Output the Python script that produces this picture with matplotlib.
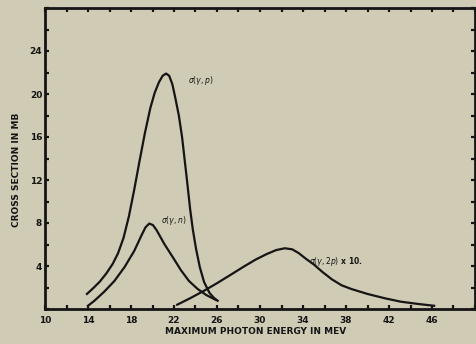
import numpy as np
import matplotlib.pyplot as plt
from matplotlib.ticker import MultipleLocator

# sigma(gamma,p)
e_p=[13.9,14.5,15.1,15.7,16.3,16.8,17.3,17.8,18.3,18.8,19.3,19.8,20.2,20.6,20.95,21.26,21.55,21.85,22.15,22.45,22.75,23.0,23.25,23.5,23.75,24.05,24.4,24.8,25.3,25.7,26.06]
s_p=[1.4,1.95,2.55,3.3,4.2,5.2,6.6,8.6,11.1,13.8,16.4,18.7,20.1,21.1,21.7,21.9,21.7,20.9,19.5,18.0,16.0,13.8,11.6,9.3,7.4,5.6,3.9,2.5,1.5,1.05,0.77]

# sigma(gamma,n)
e_n=[14.0,14.6,15.5,16.45,17.4,18.3,19.0,19.35,19.7,20.05,20.4,21.1,21.9,22.65,23.4,24.2,25.0,25.9]
s_n=[0.3,0.77,1.6,2.6,3.9,5.4,6.9,7.6,7.95,7.8,7.3,6.05,4.8,3.6,2.6,1.86,1.3,0.84]

# sigma(gamma,2p) x 10
e_2p=[22.3,23.5,24.8,26.0,27.3,28.5,29.6,30.6,31.5,32.3,33.0,33.6,34.3,35.0,35.8,36.7,37.6,38.5,40.0,41.6,43.1,44.7,46.2]
s_2p=[0.4,1.0,1.7,2.4,3.2,3.95,4.6,5.1,5.48,5.65,5.55,5.2,4.65,4.15,3.45,2.75,2.2,1.86,1.4,1.0,0.68,0.47,0.3]

bg='#cfcbb5'
ink='#151515'

fig=plt.figure(figsize=(4.77,3.44),dpi=100,facecolor=bg)
ax=fig.add_axes([45/477,1-309/344,430/477,301/344])
ax.set_facecolor(bg)

ax.plot(e_p,s_p,color=ink,lw=1.6,solid_joinstyle='round')
ax.plot(e_n,s_n,color=ink,lw=1.6,solid_joinstyle='round')
ax.plot(e_2p,s_2p,color=ink,lw=1.6,solid_joinstyle='round')

ax.text(23.3,21.3,r'$\sigma(\gamma,p)$',fontsize=5.5,color=ink,va='center')
ax.text(20.8,8.2,r'$\sigma(\gamma,n)$',fontsize=5.5,color=ink,va='center')
ax.text(34.6,4.45,r'$\sigma(\gamma,2p)$ x 10.',fontsize=5.5,color=ink,va='center',fontweight='bold')

ax.set_xlim(10,50)
ax.set_ylim(0,28)
ax.xaxis.set_minor_locator(MultipleLocator(2))
ax.yaxis.set_minor_locator(MultipleLocator(2))
ax.set_xticks(range(10,50,4))
ax.set_yticks(range(4,28,4))
ax.tick_params(which='both',direction='in',top=True,right=True,color=ink,width=1.6,length=3,
               labelsize=6.5,labelcolor=ink)
ax.tick_params(axis='y',pad=2)
ax.tick_params(axis='x',pad=5)
for lab in ax.get_xticklabels()+ax.get_yticklabels():
    lab.set_fontweight('bold')
for sp in ax.spines.values():
    sp.set_linewidth(2)
    sp.set_color(ink)

fig.text(256/477,1-332/344,'MAXIMUM PHOTON ENERGY IN MEV',ha='center',va='center',
         fontsize=6.5,fontweight='bold',color=ink)
fig.text(17/477,1-170/344,'CROSS SECTION IN MB',ha='center',va='center',rotation=90,
         fontsize=6.5,fontweight='bold',color=ink)

fig.savefig('out.png',dpi=100,facecolor=bg)
